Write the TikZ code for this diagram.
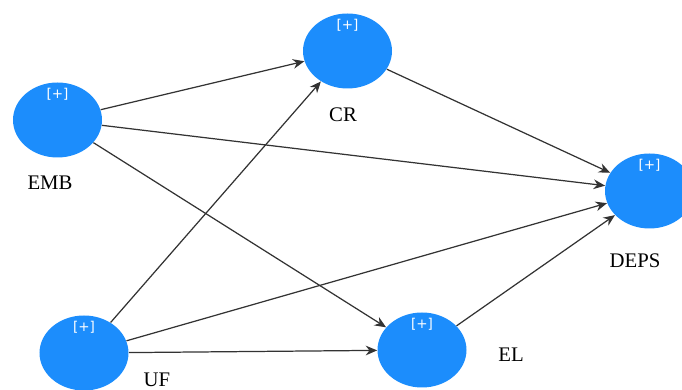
\documentclass[tikz,border=0pt]{standalone}
\usepackage{fontspec}
\setmainfont{Liberation Serif}
\newfontfamily\plusfont{DejaVu Sans}
\usepackage{tikz}
\usetikzlibrary{arrows.meta,shapes.geometric}
\definecolor{lvblue}{RGB}{28,141,252}

\begin{document}
\begin{tikzpicture}[>={Stealth[length=6.5pt,width=5.5pt]},
	lv/.style={ellipse, fill=lvblue, draw=none, inner sep=0pt,
		minimum width=1.78cm, minimum height=1.5cm,
		label={[anchor=center, yshift=-0.24cm, text=white, font=\plusfont\fontsize{7.7}{9}\selectfont]90:[+]}},
	lvname/.style={font=\fontsize{11.8}{14}\selectfont},
	lvpath/.style={->, draw=black!80, line width=0.7pt}]
	\useasboundingbox (0,0) rectangle (13.64,7.8);
	% latent variables
	\node (emb) at (1.15,5.40) [lv] {};
	\node (cr) at (6.95,6.78) [lv] {};
	\node (deps) at (12.99,3.98) [lv] {};
	\node (uf) at (1.68,0.74) [lv] {};
	\node (el) at (8.44,0.80) [lv] {};
	% names
	\node (embt) at (1.00,4.14) [lvname] {EMB};
	\node (crt) at (6.86,5.50) [lvname] {CR};
	\node (depst) at (12.70,2.58) [lvname] {DEPS};
	\node (uft) at (3.14,0.20) [lvname] {UF};
	\node (elt) at (10.22,0.70) [lvname] {EL};
	% paths
	\draw[lvpath] (emb) -- (cr);
	\draw[lvpath] (emb) -- (deps);
	\draw[lvpath] (emb) -- (el);
	\draw[lvpath] (cr) -- (deps);
	\draw[lvpath] (uf) -- (cr);
	\draw[lvpath] (uf) -- (deps);
	\draw[lvpath] (uf) -- (el);
	\draw[lvpath] (el) -- (deps);
\end{tikzpicture}
\end{document}
